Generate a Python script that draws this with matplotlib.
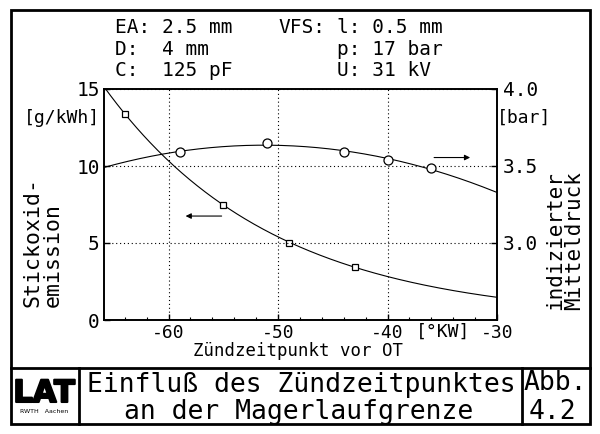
import numpy as np
import matplotlib
matplotlib.use("Agg")
import matplotlib.pyplot as plt
from matplotlib.patches import Rectangle
from matplotlib.lines import Line2D
from matplotlib.ticker import MultipleLocator
import matplotlib.patheffects as pe

plt.rcParams['font.family'] = ['DejaVu Sans Mono', 'DejaVu Sans']

nox_x = [-64, -55, -49, -43]
nox_y = [13.4, 7.5, 5.0, 3.45]          # g/kWh
pmi_x = [-59, -51, -44, -40, -36]
pmi_y = [3.59, 3.65, 3.59, 3.54, 3.485]  # bar

x_ticks = [-60, -50, -40, -30]
x_tick_labels = ["-60", "-50", "-40", "-30"]
y_left_ticks = [0, 5, 10, 15]
y_right_ticks = [3.0, 3.5, 4.0]
y_right_labels = ["3.0", "3.5", "4.0"]

header_left = ["EA: 2.5 mm", "D:  4 mm", "C:  125 pF"]
header_right = ["l: 0.5 mm", "p: 17 bar", "U: 31 kV"]

XMIN, XMAX = -65.9, -30
W, H = 600, 434


def fx(x):
    return x / W


def fy(y):
    return 1 - y / H


fig = plt.figure(figsize=(W / 100, H / 100), dpi=100)
fig.patch.set_facecolor("white")

ax = fig.add_axes([fx(104), fy(320), (497 - 104) / W, (320 - 89) / H])
ax2 = ax.twinx()

# Ausgleichskurven aus den Messpunkten
xs = np.linspace(XMIN, XMAX, 300)
c_nox = np.polyfit(nox_x, np.log(nox_y), 1)
c_pmi = np.polyfit(pmi_x, pmi_y, 2)

ax.plot(xs, np.exp(np.polyval(c_nox, xs)), color="k", lw=0.8)
ax.plot(nox_x, nox_y, "s", mfc="white", mec="k", ms=5, mew=0.9)
ax2.plot(xs, np.polyval(c_pmi, xs), color="k", lw=0.8)
ax2.plot(pmi_x, pmi_y, "o", mfc="white", mec="k", ms=6.5, mew=0.9)

ax.set_xlim(XMIN, XMAX)
ax.set_ylim(0, 15)
ax2.set_ylim(2.5, 4.0)

ax.set_xticks(x_ticks)
ax.set_xticklabels(x_tick_labels, fontsize=13)
ax.xaxis.set_minor_locator(MultipleLocator(2))
ax.set_yticks(y_left_ticks)
ax.set_yticklabels([str(v) for v in y_left_ticks], fontsize=14)
ax2.set_yticks(y_right_ticks)
ax2.set_yticklabels(y_right_labels, fontsize=14)

ax.tick_params(direction="in", length=4, width=1, pad=3)
ax.tick_params(axis="x", which="minor", direction="in", length=2.5, width=0.8)
ax2.tick_params(direction="in", length=4, width=1, pad=4)

for a in (ax, ax2):
    for s in a.spines.values():
        s.set_linewidth(1.2)

ax.grid(True, which="major", color="k", linestyle=(0, (1, 2.5)), lw=0.8)
ax.set_axisbelow(False)

# Pfeile zur Achsenzuordnung
ax.annotate("", xy=(-58.7, 6.75), xytext=(-54.9, 6.75),
            arrowprops=dict(arrowstyle="-|>", lw=0.8, color="k", mutation_scale=8))
ax2.annotate("", xy=(-32.2, 3.555), xytext=(-36.0, 3.555),
             arrowprops=dict(arrowstyle="-|>", lw=0.8, color="k", mutation_scale=8))

# Einheiten und Achsbeschriftungen
fig.text(fx(100), fy(118), "[g/kWh]", fontsize=13, ha="right", va="center")
fig.text(fx(497), fy(118), "[bar]", fontsize=13, ha="left", va="center")
fig.text(fx(443), fy(332), "[°KW]", fontsize=13, ha="center", va="center")
fig.text(fx(298), fy(351), "Zündzeitpunkt vor OT", fontsize=12.5, ha="center", va="center")

fig.text(fx(33), fy(307), "Stickoxid-", fontsize=15.5, rotation=90, ha="center", va="bottom")
fig.text(fx(53), fy(307), "emission", fontsize=15.5, rotation=90, ha="center", va="bottom")
fig.text(fx(555), fy(310), "indizierter", fontsize=15, rotation=90, ha="center", va="bottom")
fig.text(fx(574), fy(310), "Mitteldruck", fontsize=15, rotation=90, ha="center", va="bottom")

# Kopfzeile mit Versuchsparametern
hdr = dict(fontsize=14, ha="left", va="baseline")
for i, (sl, sr) in enumerate(zip(header_left, header_right)):
    yb = [33, 55, 76][i]
    fig.text(fx(115), fy(yb), sl, **hdr)
    fig.text(fx(337), fy(yb), sr, **hdr)
fig.text(fx(278), fy(33), "VFS:", **hdr)

# Rahmen und Schriftfeld
fig.add_artist(Rectangle((fx(11), fy(424)), (590 - 11) / W, (424 - 10) / H,
                         transform=fig.transFigure, fill=False, lw=2, color="k"))
fig.add_artist(Line2D([fx(11), fx(590)], [fy(368), fy(368)],
                      transform=fig.transFigure, lw=2, color="k"))
for xv in (79, 522):
    fig.add_artist(Line2D([fx(xv), fx(xv)], [fy(368), fy(424)],
                          transform=fig.transFigure, lw=2, color="k"))

fig.text(fx(301), fy(392), "Einfluß des Zündzeitpunktes", fontsize=19, ha="center", va="baseline")
fig.text(fx(299), fy(419), "an der Magerlaufgrenze", fontsize=19, ha="center", va="baseline")
fig.text(fx(555), fy(390), "Abb.", fontsize=19, ha="center", va="baseline")
fig.text(fx(552), fy(419), "4.2", fontsize=19, ha="center", va="baseline")

fig.text(fx(44), fy(402), "LAT", fontsize=22, fontweight="bold", family="DejaVu Sans",
         ha="center", va="baseline",
         path_effects=[pe.withStroke(linewidth=1.5, foreground="k")])
fig.text(fx(44), fy(413), "RWTH   Aachen", fontsize=4.5, family="DejaVu Sans",
         ha="center", va="baseline")

fig.savefig("out.png", dpi=100)
